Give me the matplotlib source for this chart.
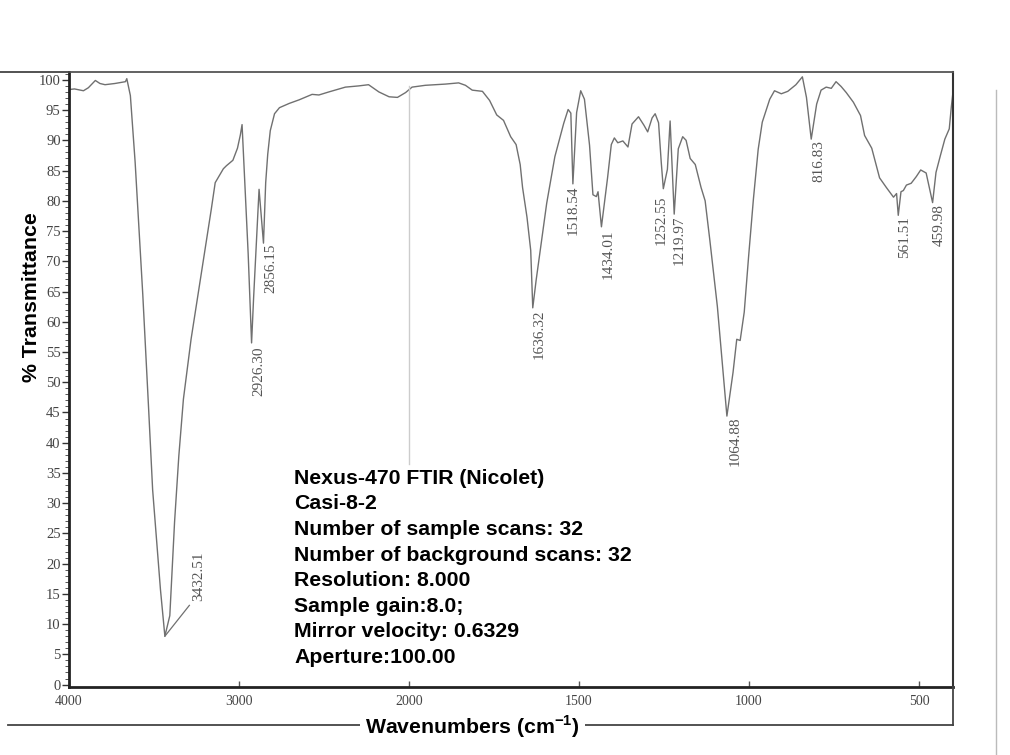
import numpy as np
import matplotlib.pyplot as plt
from matplotlib.lines import Line2D
from matplotlib.ticker import MultipleLocator, FixedLocator

plt.rcParams['mathtext.fontset'] = 'custom'
plt.rcParams['mathtext.rm'] = 'Liberation Sans'
plt.rcParams['mathtext.bf'] = 'Liberation Sans:bold'

# spectrum (cm-1, %T)
wavenumber = [4000, 3968, 3915, 3886, 3845, 3818, 3788, 3730, 3668, 3660,
              3639, 3611, 3566, 3532, 3508, 3462, 3436, 3407, 3379, 3354,
              3327, 3282, 3218, 3163, 3140, 3092, 3074, 3036, 3009, 2992,
              2982, 2946, 2926, 2914, 2882, 2856, 2843, 2831, 2816, 2791,
              2762, 2705, 2646, 2570, 2530, 2472, 2374, 2296, 2238, 2177,
              2117, 2068, 2020, 1991, 1952, 1893, 1854, 1834, 1814, 1784,
              1763, 1742, 1722, 1701, 1685, 1673, 1666, 1653, 1642, 1636,
              1626, 1618, 1595, 1571, 1545, 1532, 1524, 1518, 1512, 1507,
              1495, 1484, 1469, 1459, 1449, 1444, 1434, 1416, 1405, 1396,
              1386, 1371, 1356, 1344, 1325, 1309, 1298, 1285, 1276, 1266,
              1258, 1252, 1240, 1232, 1220, 1208, 1195, 1185, 1173, 1158,
              1141, 1129, 1115, 1093, 1076, 1065, 1047, 1036, 1026, 1014,
              1001, 987, 973, 961, 939, 925, 905, 886, 862, 843,
              831, 817, 801, 788, 773, 758, 744, 729, 714, 693,
              672, 660, 639, 616, 596, 575, 566, 561, 553, 546,
              537, 523, 508, 495, 479, 460, 450, 437, 424, 411,
              405, 400]
transmittance = [98.4, 98.5, 98.2, 98.7, 99.9, 99.4, 99.2, 99.4, 99.7, 100.2,
                 97.4, 86.4, 64.5, 45.8, 32.2, 15.7, 8.0, 11.4, 26.9, 37.8,
                 47.2, 57.1, 68.7, 78.6, 83.0, 85.3, 85.8, 86.7, 88.7, 90.9,
                 92.6, 71.2, 56.5, 64.0, 81.9, 73.0, 83.0, 87.7, 91.6, 94.4,
                 95.4, 96.1, 96.7, 97.6, 97.5, 98.0, 98.8, 99.0, 99.2, 98.0,
                 97.2, 97.1, 97.9, 98.8, 99.1, 99.3, 99.5, 99.1, 98.3, 98.1,
                 96.6, 94.2, 93.3, 90.6, 89.3, 86.0, 82.2, 77.3, 71.8, 62.3,
                 66.9, 70.2, 79.6, 87.3, 92.8, 95.1, 94.5, 82.8, 89.1, 94.6,
                 98.2, 96.8, 89.2, 81.0, 80.7, 81.5, 75.7, 83.8, 89.3, 90.4,
                 89.6, 89.9, 88.9, 92.7, 93.9, 92.5, 91.4, 93.7, 94.4, 92.9,
                 86.3, 82.0, 85.2, 93.2, 77.8, 88.6, 90.6, 90.0, 87.0, 86.0,
                 82.2, 80.0, 73.4, 62.5, 51.5, 44.4, 51.6, 57.1, 56.9, 61.6,
                 70.9, 80.3, 88.5, 93.0, 96.8, 98.2, 97.7, 98.1, 99.2, 100.5,
                 97.1, 90.2, 96.0, 98.3, 98.8, 98.6, 99.7, 98.9, 97.9, 96.3,
                 94.1, 90.8, 88.7, 83.8, 82.2, 80.6, 81.2, 77.6, 81.5, 81.7,
                 82.6, 82.9, 84.0, 85.1, 84.6, 79.7, 84.7, 87.5, 90.2, 91.9,
                 95.5, 98.0]

# peak labels (text, label centre in cm-1, top of label in %T)
peak_labels = ['3432.51', '2926.30', '2856.15', '1636.32', '1518.54', '1434.01',
               '1252.55', '1219.97', '1064.88', '816.83', '561.51', '459.98']
label_x = [3240, 2882, 2814, 1618, 1518, 1413, 1258, 1204, 1041, 795, 542, 441]
label_y = [13.8, 55.9, 72.9, 62.0, 82.5, 75.3, 80.8, 77.6, 44.3, 90.0, 77.4, 79.5]

x_ticks = [4000, 3000, 2000, 1500, 1000, 500]

info_lines = ['Nexus-470 FTIR (Nicolet)',
              'Casi-8-2',
              'Number of sample scans: 32',
              'Number of background scans: 32',
              'Resolution: 8.000',
              'Sample gain:8.0;',
              'Mirror velocity: 0.6329',
              'Aperture:100.00']


# x axis is compressed 2x above 2000 cm-1 (usual Nicolet printout)
def fwd(w):
    w = np.asarray(w, dtype=float)
    return np.where(w > 2000, 2000 + (w - 2000) / 2.0, w)


def inv(u):
    u = np.asarray(u, dtype=float)
    return np.where(u > 2000, 2000 + (u - 2000) * 2.0, u)


W, H = 1010, 755
fig = plt.figure(figsize=(W / 100, H / 100), dpi=100)
L, R, T, B = 69, 953, 72, 687
ax = fig.add_axes([L / W, 1 - B / H, (R - L) / W, (B - T) / H])

ax.set_xscale('function', functions=(fwd, inv))
ax.set_xlim(4000, 400)
ax.set_ylim(-0.4, 101.3)

ax.plot(wavenumber, transmittance, color='#707070', lw=1.0)
# scale-change marker at 2000
ax.plot([2000, 2000], [36.5, 99.0], color='#cccccc', lw=1.0)

# leader for the 3432 band
ax.plot([3436, 3292], [8.0, 13.1], color='#707070', lw=0.9)
for i, txt in enumerate(peak_labels):
    va = 'bottom' if i == 0 else 'top'
    ax.text(label_x[i], label_y[i], txt, rotation=90, ha='center', va=va,
            fontsize=11, family='Liberation Serif', color='#555555')

ax.xaxis.set_major_locator(FixedLocator(x_ticks))
ax.xaxis.set_minor_locator(FixedLocator([]))
ax.set_xticklabels([str(t) for t in x_ticks])
ax.yaxis.set_major_locator(MultipleLocator(5))
ax.yaxis.set_minor_locator(MultipleLocator(1))
ax.set_yticks(list(range(0, 101, 5)))
ax.tick_params(axis='y', which='major', direction='out', length=5, width=1,
               pad=1, labelsize=10.5, labelcolor='#444444', color='#333333')
ax.tick_params(axis='y', which='minor', direction='out', length=3, width=0.7,
               color='#555555')
ax.tick_params(axis='x', which='major', direction='in', length=4, width=1,
               pad=6, labelsize=10, labelcolor='#444444', color='#555555')
for lab in ax.get_xticklabels() + ax.get_yticklabels():
    lab.set_family('Liberation Serif')

ax.spines['left'].set_linewidth(2.0)
ax.spines['left'].set_color('#222222')
ax.spines['bottom'].set_linewidth(2.0)
ax.spines['bottom'].set_color('#222222')
ax.spines['top'].set_linewidth(1.3)
ax.spines['top'].set_color('#555555')
ax.spines['right'].set_linewidth(1.5)
ax.spines['right'].set_color('#333333')

# page frame around the plot
frame = dict(transform=fig.transFigure, color='#444444', lw=1.3)
fig.add_artist(Line2D([0, L / W], [1 - T / H, 1 - T / H], **frame))
fig.add_artist(Line2D([R / W, R / W], [1 - B / H, 1 - 725 / H], **frame))
fig.add_artist(Line2D([8 / W, R / W], [1 - 725 / H, 1 - 725 / H], **frame))
fig.add_artist(Line2D([996 / W, 996 / W], [1 - 90 / H, 0], transform=fig.transFigure,
                      color='#bbbbbb', lw=1.0))

bold = dict(fontsize=15.3, fontweight='bold', family='Liberation Sans', color='black')
for i, line in enumerate(info_lines):
    fig.text(294 / W, 1 - (478.3 + 25.6 * i) / H, line, ha='left', va='center', **bold)

fig.text(32 / W, 1 - 297 / H, '% Transmittance', rotation=90, ha='center',
         va='center', **bold)
fig.text(472.5 / W, 1 - 727 / H, r'Wavenumbers (cm$^{\mathbf{-1}}$)', ha='center',
         va='center', bbox=dict(facecolor='white', edgecolor='none', pad=4), **bold)

fig.savefig('out.png', dpi=100)
